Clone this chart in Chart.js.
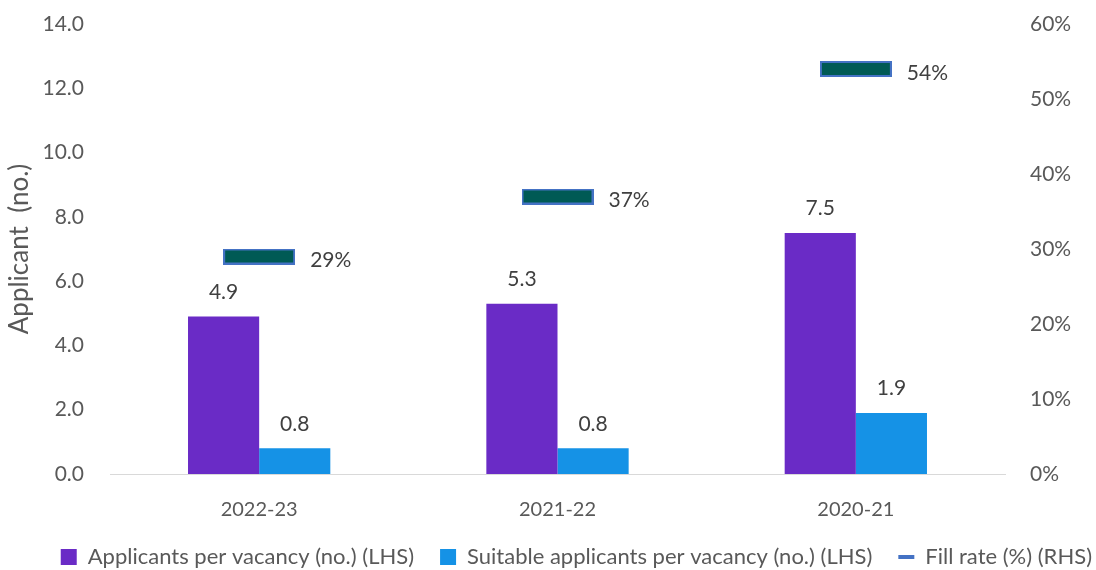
<html>
<head>
<script src="https://cdn.jsdelivr.net/npm/chart.js"></script>
<style>
  body { margin: 0; background: #fff; }
  #wrap { width: 1096px; height: 570px; }
</style>
</head>
<body>
<div id="wrap"><canvas id="barChart" width="1096" height="570"></canvas></div>
<script>
    // data
    const years = ["2022-23", "2021-22", "2020-21"];
    const applicants = [4.9, 5.3, 7.5];
    const suitable = [0.8, 0.8, 1.9];
    const fillRate = [29, 37, 54];

    const leftTicks = [0, 2, 4, 6, 8, 10, 12, 14];
    const rightTicks = [0, 10, 20, 30, 40, 50, 60];

    const FONT = "Lato, 'Open Sans', sans-serif";
    const GREY = "#595959";

    // flat marker for the fill rate
    function makeMarker() {
        let c = document.createElement("canvas");
        c.width = 72; c.height = 16;
        let g = c.getContext("2d");
        g.fillStyle = "#4472c4";
        g.fillRect(0, 0, 72, 16);
        g.fillStyle = "#005a55";
        g.fillRect(2, 2, 68, 12);
        return c;
    }
    const marker = makeMarker();

    // value labels
    const labelPlugin = {
        id: "valueLabels",
        afterDatasetsDraw(chart) {
            let ctx = chart.ctx;
            ctx.save();
            ctx.font = "21px " + FONT;
            ctx.fillStyle = "#404040";
            chart.data.datasets.forEach(function(ds, i) {
                let meta = chart.getDatasetMeta(i);
                meta.data.forEach(function(el, j) {
                    if (ds.type === "line") {
                        ctx.textAlign = "left";
                        ctx.textBaseline = "middle";
                        ctx.fillText(ds.data[j] + "%", el.x + 51, el.y + 4);
                    } else {
                        ctx.textAlign = "center";
                        ctx.textBaseline = "bottom";
                        ctx.fillText(ds.data[j].toFixed(1), el.x, el.y - 14);
                    }
                });
            });
            ctx.restore();
        }
    };

    function noPad(axis) {
        axis.paddingTop = 0;
        axis.paddingBottom = 0;
    }

    let ctx = document.getElementById("barChart").getContext("2d");
    let chart = new Chart(ctx, {
        type: "bar",
        data: {
            labels: years,
            datasets: [
                {
                    type: "line",
                    label: "Fill rate (%) (RHS)",
                    data: fillRate,
                    yAxisID: "y1",
                    showLine: false,
                    pointStyle: marker,
                    pointRadius: 8,
                    order: 0
                },
                {
                    label: "Applicants per vacancy (no.) (LHS)",
                    data: applicants,
                    backgroundColor: "#6a2bc6",
                    yAxisID: "y",
                    order: 1
                },
                {
                    label: "Suitable applicants per vacancy (no.) (LHS)",
                    data: suitable,
                    backgroundColor: "#1592e6",
                    yAxisID: "y",
                    order: 1
                }
            ]
        },
        options: {
            responsive: false,
            animation: false,
            layout: { padding: { top: 24, left: 0, right: 0, bottom: 0 } },
            datasets: { bar: { categoryPercentage: 0.477, barPercentage: 1 } },
            plugins: {
                tooltip: { enabled: false },
                legend: {
                    position: "bottom",
                    align: "end",
                    labels: {
                        color: GREY,
                        font: { family: FONT, size: 22 },
                        usePointStyle: true,
                        pointStyleWidth: 16,
                        boxHeight: 16,
                        padding: 26,
                        generateLabels(chart) {
                            let ds = chart.data.datasets;
                            return [
                                { text: ds[1].label, fillStyle: "#6a2bc6", strokeStyle: "#6a2bc6", lineWidth: 0, pointStyle: "rect", fontColor: GREY, datasetIndex: 1 },
                                { text: ds[2].label, fillStyle: "#1592e6", strokeStyle: "#1592e6", lineWidth: 0, pointStyle: "rect", fontColor: GREY, datasetIndex: 2 },
                                { text: ds[0].label, fillStyle: "#4472c4", strokeStyle: "#4472c4", lineWidth: 4, pointStyle: "line", fontColor: GREY, datasetIndex: 0 }
                            ];
                        }
                    }
                }
            },
            scales: {
                x: {
                    afterFit(axis) { axis.height = 46; },
                    grid: { display: false, drawTicks: false },
                    border: { color: "#d9d9d9", width: 1 },
                    ticks: { color: GREY, font: { family: FONT, size: 20 }, padding: 24 }
                },
                y: {
                    position: "left",
                    min: 0, max: 14,
                    afterBuildTicks(axis) { axis.ticks = leftTicks.map(v => ({ value: v })); },
                    afterFit(axis) { axis.width = 110; noPad(axis); },
                    grid: { display: false, drawTicks: false },
                    border: { display: false },
                    ticks: {
                        color: GREY, font: { family: FONT, size: 21 }, padding: 26,
                        callback: v => v.toFixed(1)
                    },
                    title: {
                        display: true, text: "Applicant  (no.)", color: GREY,
                        font: { family: FONT, size: 26 }, padding: { bottom: 0 }
                    }
                },
                y1: {
                    position: "right",
                    min: 0, max: 60,
                    afterBuildTicks(axis) { axis.ticks = rightTicks.map(v => ({ value: v })); },
                    afterFit(axis) { axis.width = 91; noPad(axis); },
                    grid: { display: false, drawTicks: false },
                    border: { display: false },
                    ticks: {
                        color: GREY, font: { family: FONT, size: 21 }, padding: 25,
                        callback: v => v + "%"
                    }
                }
            }
        },
        plugins: [labelPlugin]
    });

    // keep the legend band short so the plot reaches down like the original,
    // and nudge the row to the right a little
    let legendFit = chart.legend.fit.bind(chart.legend);
    chart.legend.fit = function() {
        legendFit();
        this.height = 50;
    };
    let legendDraw = chart.legend.draw.bind(chart.legend);
    chart.legend.draw = function() {
        this.left += 22; this.right += 22;
        legendDraw();
        this.left -= 22; this.right -= 22;
    };
    chart.update();
</script>
</body>
</html>
